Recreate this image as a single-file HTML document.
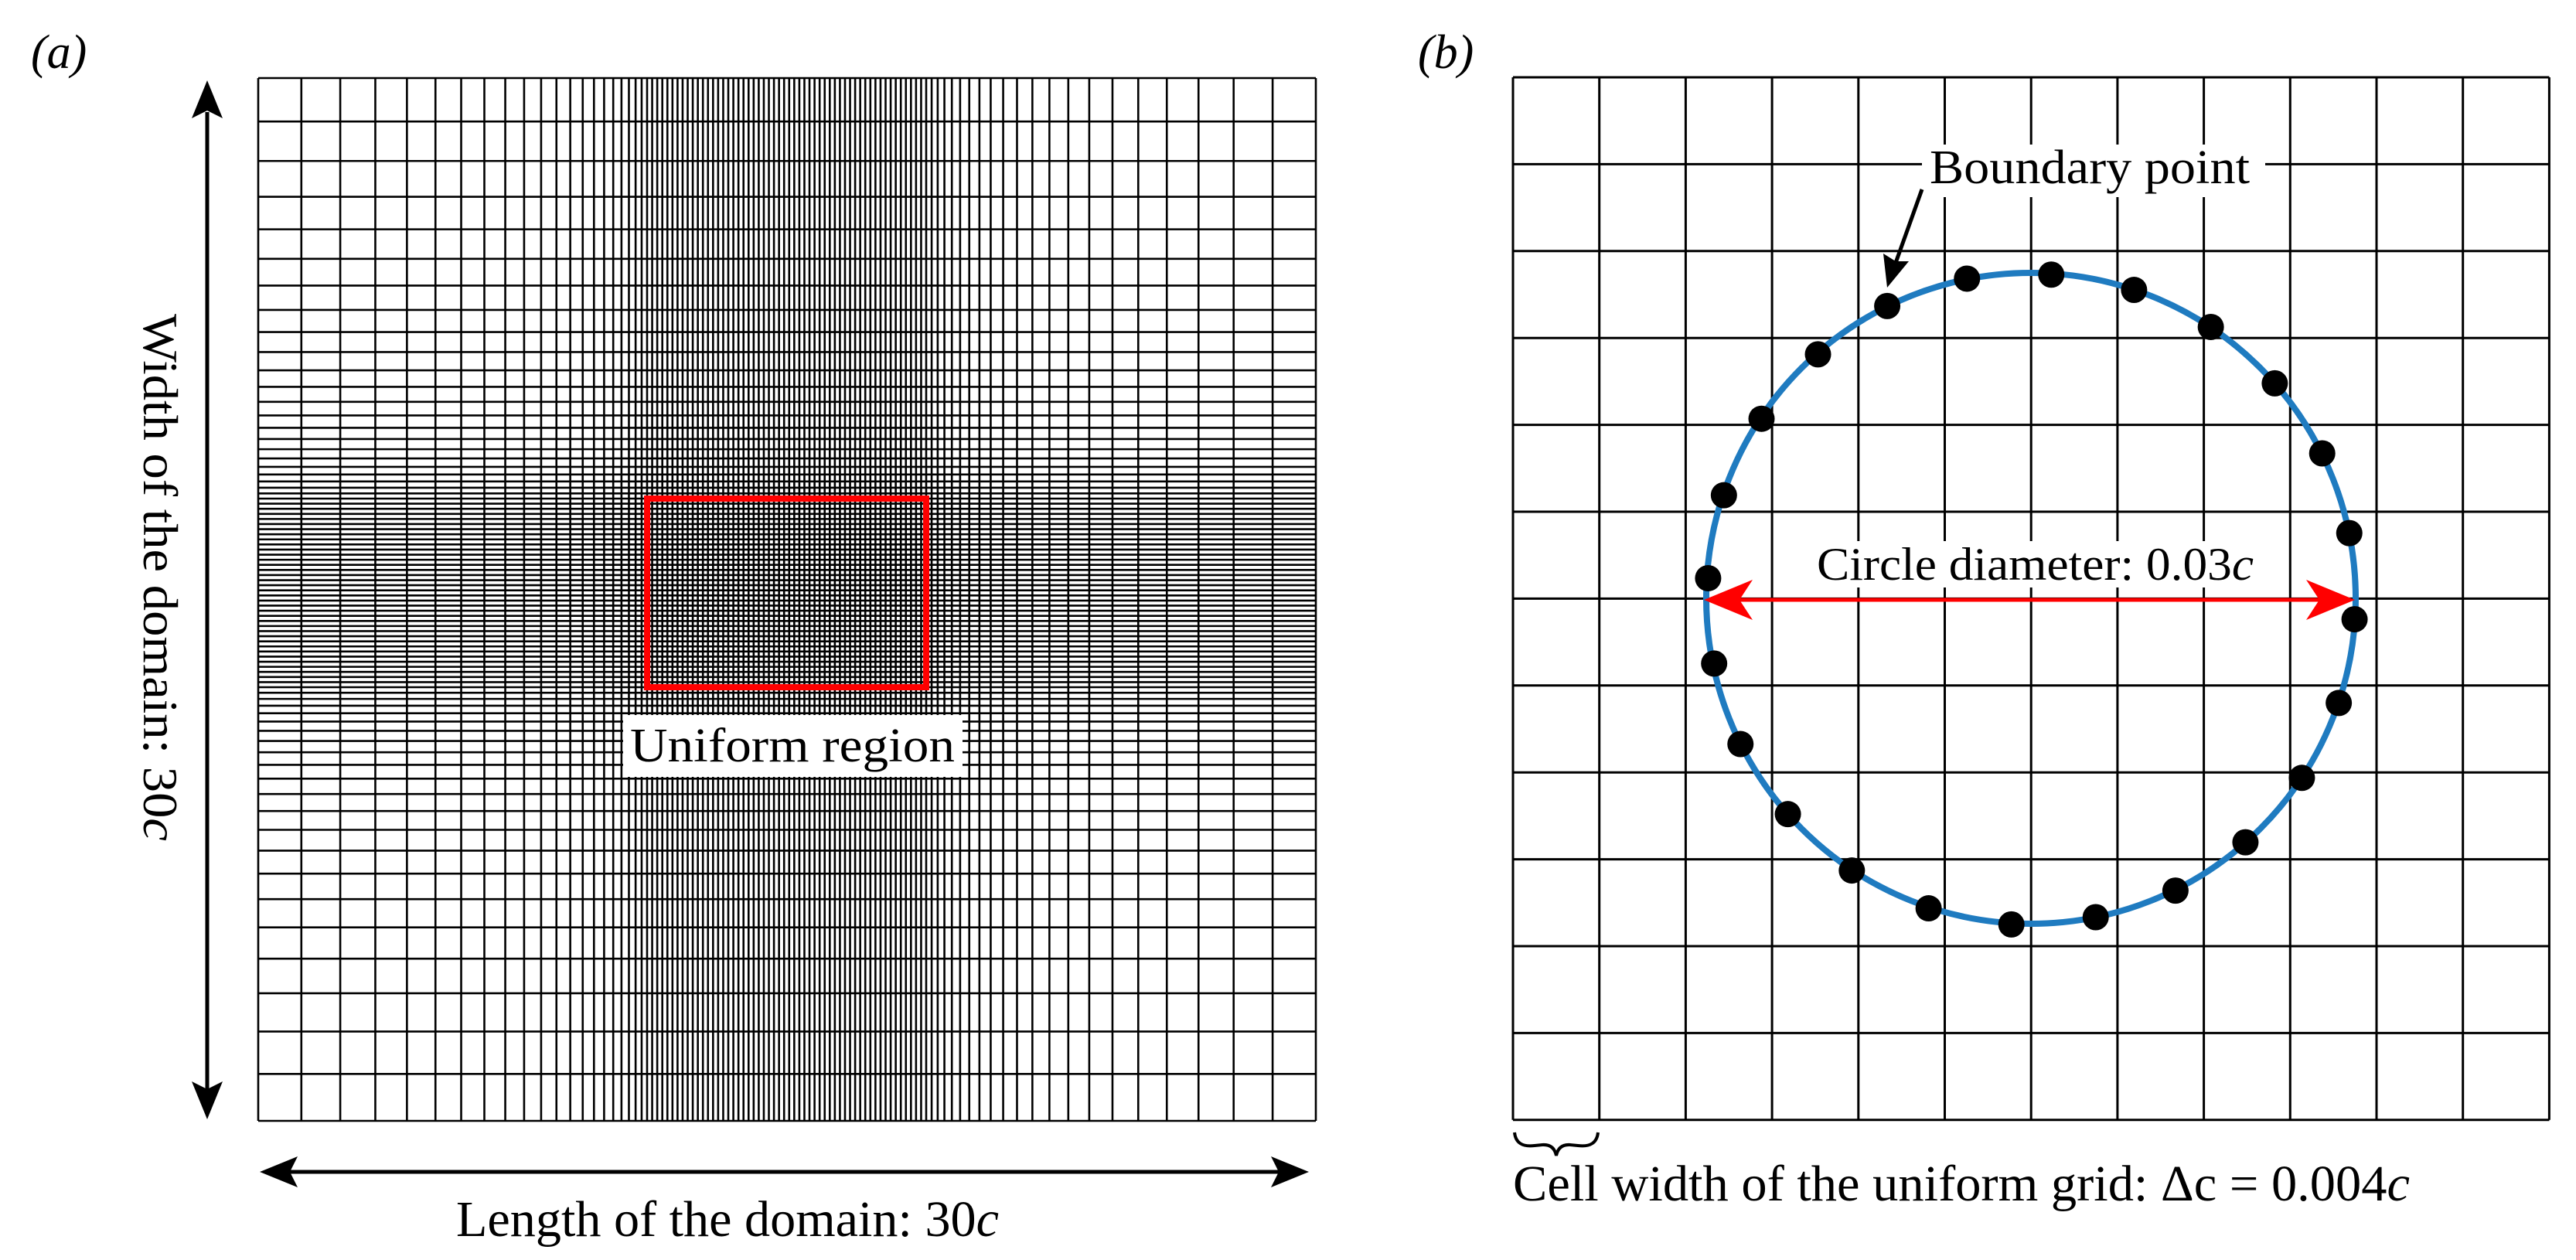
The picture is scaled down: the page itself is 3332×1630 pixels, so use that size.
<!DOCTYPE html>
<html><head><meta charset="utf-8"><style>
html,body{margin:0;padding:0;background:#fff;}
svg{display:block;}
text{font-family:"Liberation Serif",serif;fill:#000;}
</style></head><body>
<svg id="s" width="3332" height="1630" viewBox="0 0 3332 1630" xmlns="http://www.w3.org/2000/svg">
<rect width="3332" height="1630" fill="#fff"/>
<g id="ga" stroke="#000" stroke-width="2.6" fill="none"></g>
<rect x="837" y="645" width="361" height="244" fill="none" stroke="#f00" stroke-width="8"/>
<rect x="806" y="925" width="439" height="80" fill="#fff"/>
<text x="1025" y="985" font-size="62" text-anchor="middle" textLength="420" lengthAdjust="spacingAndGlyphs">Uniform region</text>
<text x="40" y="88" font-size="62" font-style="italic">(a)</text>
<line x1="268" y1="145" x2="268" y2="1410" stroke="#000" stroke-width="5"/>
<polygon points="268,104 248,153 268,143 288,153" fill="#000"/>
<polygon points="268,1448 248,1399 268,1409 288,1399" fill="#000"/>
<text transform="translate(186,406) rotate(90)" font-size="64" textLength="682" lengthAdjust="spacingAndGlyphs">Width of the domain: 30<tspan font-style="italic">c</tspan></text>
<line x1="375" y1="1516" x2="1655" y2="1516" stroke="#000" stroke-width="5"/>
<polygon points="336,1516 385,1496 375,1516 385,1536" fill="#000"/>
<polygon points="1693,1516 1644,1496 1654,1516 1644,1536" fill="#000"/>
<text x="590" y="1599" font-size="66" textLength="702" lengthAdjust="spacingAndGlyphs">Length of the domain: 30<tspan font-style="italic">c</tspan></text>

<text x="1834" y="88" font-size="62" font-style="italic">(b)</text>
<g id="gb" stroke="#000" stroke-width="3" fill="none"></g>
<rect x="2486" y="187" width="444" height="68" fill="#fff"/>
<text x="2496" y="237" font-size="62" textLength="414" lengthAdjust="spacingAndGlyphs">Boundary point</text>
<line x1="2486" y1="245" x2="2452" y2="340" stroke="#000" stroke-width="5"/>
<polygon points="2441,372 2436,328 2452,338 2469,338" fill="#000"/>
<ellipse cx="2627" cy="774" rx="420" ry="421" fill="none" stroke="#1f7bc0" stroke-width="8"/>
<g id="dots" fill="#000"></g>
<rect x="2340" y="700" width="585" height="60" fill="#fff"/>
<text x="2350" y="750" font-size="60" textLength="565" lengthAdjust="spacingAndGlyphs">Circle diameter: 0.03<tspan font-style="italic">c</tspan></text>
<line x1="2250" y1="776" x2="3000" y2="776" stroke="#f00" stroke-width="5"/>
<polygon points="2204,776 2267,750 2250,776 2267,802" fill="#f00"/>
<polygon points="3046,776 2983,750 3000,776 2983,802" fill="#f00"/>
<path d="M1959,1465 Q1961,1485 1985,1482 L1995,1481 Q2010,1480 2013,1495 Q2016,1480 2031,1481 L2041,1482 Q2065,1485 2067,1465" fill="none" stroke="#000" stroke-width="4"/>
<text x="1957" y="1553" font-size="66" textLength="1160" lengthAdjust="spacingAndGlyphs">Cell width of the uniform grid: Δc = 0.004<tspan font-style="italic">c</tspan></text>
</svg>
<script>
(function(){
var NS="http://www.w3.org/2000/svg";
function line(g,x1,y1,x2,y2){var l=document.createElementNS(NS,"line");l.setAttribute("x1",x1);l.setAttribute("y1",y1);l.setAttribute("x2",x2);l.setAttribute("y2",y2);g.appendChild(l);}
function stretch(L,h0,hmax){
  var best=null,bd=1e9;
  for(var r=1.005;r<1.4;r+=0.0005){
    var s=0,h=h0,arr=[];
    while(s<L){h*=r;s+=h;arr.push(s);}
    var d=Math.abs(h-hmax);
    if(d<bd){bd=d;best=arr;}
  }
  var tot=best[best.length-1];
  return best.map(function(v){return v*L/tot;});
}
var ga=document.getElementById("ga");
var X0=334,X1=1702,Y0=101,Y1=1450;
var ux0=837,ux1=1198,uy0=645,uy1=889,h=6.6;
var xs=[],ys=[];
for(var x=ux0;x<=ux1+0.1;x+=(ux1-ux0)/Math.round((ux1-ux0)/h))xs.push(x);
stretch(ux0-X0,h,58).forEach(function(d){xs.push(ux0-d);});
stretch(X1-ux1,h,58).forEach(function(d){xs.push(ux1+d);});
for(var y=uy0;y<=uy1+0.1;y+=(uy1-uy0)/Math.round((uy1-uy0)/h))ys.push(y);
stretch(uy0-Y0,h,61).forEach(function(d){ys.push(uy0-d);});
stretch(Y1-uy1,h,62).forEach(function(d){ys.push(uy1+d);});
xs.forEach(function(x){line(ga,x,Y0,x,Y1);});
ys.forEach(function(y){line(ga,X0,y,X1,y);});
var gb=document.getElementById("gb");
var bx0=1957,by0=100,cw=111.7,ch=112.4;
for(var i=0;i<=12;i++){line(gb,bx0+i*cw,by0,bx0+i*cw,by0+12*ch);line(gb,bx0,by0+i*ch,bx0+12*cw,by0+i*ch);}
var pts=[[875,343],[985,362],[1087,408],[1172,478],[1235,565],[1271,664],[1278,771],[1257,875],[1208,968],[1133,1048],[1040,1108],[934,1141],[822,1150],[712,1130],[610,1083],[525,1013],[462,926],[427,826],[419,720],[440,617],[490,522],[565,442],[657,382],[763,348]];
var gd=document.getElementById("dots");
pts.forEach(function(p){var c=document.createElementNS(NS,"circle");
c.setAttribute("cx",2627+(p[0]-848)/114.75*111.7);c.setAttribute("cy",774+(p[1]-745)/107.9*112.4);c.setAttribute("r",17);gd.appendChild(c);});
})();
</script>
</body></html>
